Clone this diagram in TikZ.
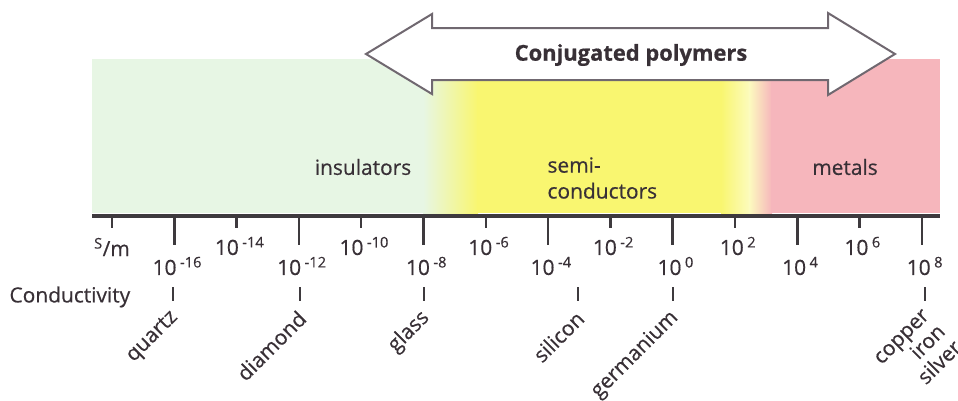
\documentclass[tikz,border=0pt]{standalone}
\usepackage{fontspec}
\setmainfont{Open Sans}
\newfontfamily\labelfont{Open Sans}[FakeBold=0.5]
\definecolor{insgreen}{RGB}{231,246,228}
\definecolor{semiyellow}{RGB}{249,246,112}
\definecolor{metpink}{RGB}{246,182,188}
\definecolor{axisgray}{RGB}{62,58,62}
\definecolor{arrowgray}{RGB}{112,104,112}
\definecolor{txtgray}{RGB}{56,48,54}
\newcommand{\tpow}[1]{10\,\textsuperscript{#1}}
\tikzset{
  axisline/.style={axisgray,line width=4bp},
  tickline/.style={axisgray,line width=2.5bp},
  matlabel/.style={rotate=45,anchor=east,inner sep=1bp},
}

\begin{document}
\begin{tikzpicture}[x=1bp,y=-1bp,font=\labelfont\fontsize{21}{26}\selectfont,text=txtgray]
  \useasboundingbox (0,0) rectangle (958,400);
  % coloured bands
  \fill[insgreen] (92,59) rectangle (424,213);
  \shade[left color=insgreen,right color=semiyellow] (423,59) rectangle (478,213);
  \fill[semiyellow] (477,59) rectangle (722,213);
  \shade[left color=semiyellow,right color=semiyellow!45!white] (721,59) rectangle (750,213);
  \shade[left color=semiyellow!45!white,right color=metpink] (749,59) rectangle (772,213);
  \fill[metpink] (771,59) rectangle (940,213);
  \node (ins) at (363,167) {insulators};
  \node (semi) [align=left,anchor=west] at (544,178) {semi-\\conductors};
  \node (met) at (845,167) {metals};
  % double arrow
  \filldraw[fill=white,draw=arrowgray,line width=2bp]
    (366,54) -- (432,14) -- (432,28) -- (828,28) -- (828,13) -- (895,54)
    -- (828,95) -- (828,80) -- (432,80) -- (432,94) -- cycle;
  \node (conj) at (631,55) {\fontsize{22}{26}\selectfont\bfseries Conjugated polymers};
  % axis and ticks
  \draw[axisline] (92,216) -- (940,216);
  \foreach \i in {0,2,...,12}
    \draw[tickline] ({112+62.3*\i},216) -- ++(0,12);
  \foreach \i in {1,3,...,13}
    \draw[tickline] ({112+62.3*\i},216) -- ++(0,29);
  \foreach \i in {2,4,...,12} {
    \pgfmathtruncatemacro{\e}{2*\i-18}
    \node (lab\i) at ({115+62.3*\i},246) {\tpow{\e}};
  }
  \foreach \i in {1,3,...,13} {
    \pgfmathtruncatemacro{\e}{2*\i-18}
    \node (lab\i) at ({115+62.3*\i},266) {\tpow{\e}};
  }
  \node (unit) at (112,247) {\textsuperscript{S}/m};
  \node (cond) [anchor=west] at (6,297) {Conductivity};
  % materials
  \foreach \x/\m/\t in {173/quartz/quartz,300/diamond/diamond,424/glass/glass,
                        578/silicon/silicon,673/germanium/germanium} {
    \coordinate (\m-t) at (\x,287);
    \draw[tickline,line width=2bp] (\m-t) -- ++(0,14);
    \node (\m) [matlabel] at (\x+3,314) {\t};
  }
  \coordinate (metal-t) at (925,287);
  \draw[tickline,line width=2bp] (metal-t) -- ++(0,14);
  \node (metal) [rotate=45,anchor=north east,align=right,inner sep=1bp,
                 font=\labelfont\fontsize{21}{23}\selectfont]
    at (922,307) {copper\\iron\\silver};
\end{tikzpicture}
\end{document}
